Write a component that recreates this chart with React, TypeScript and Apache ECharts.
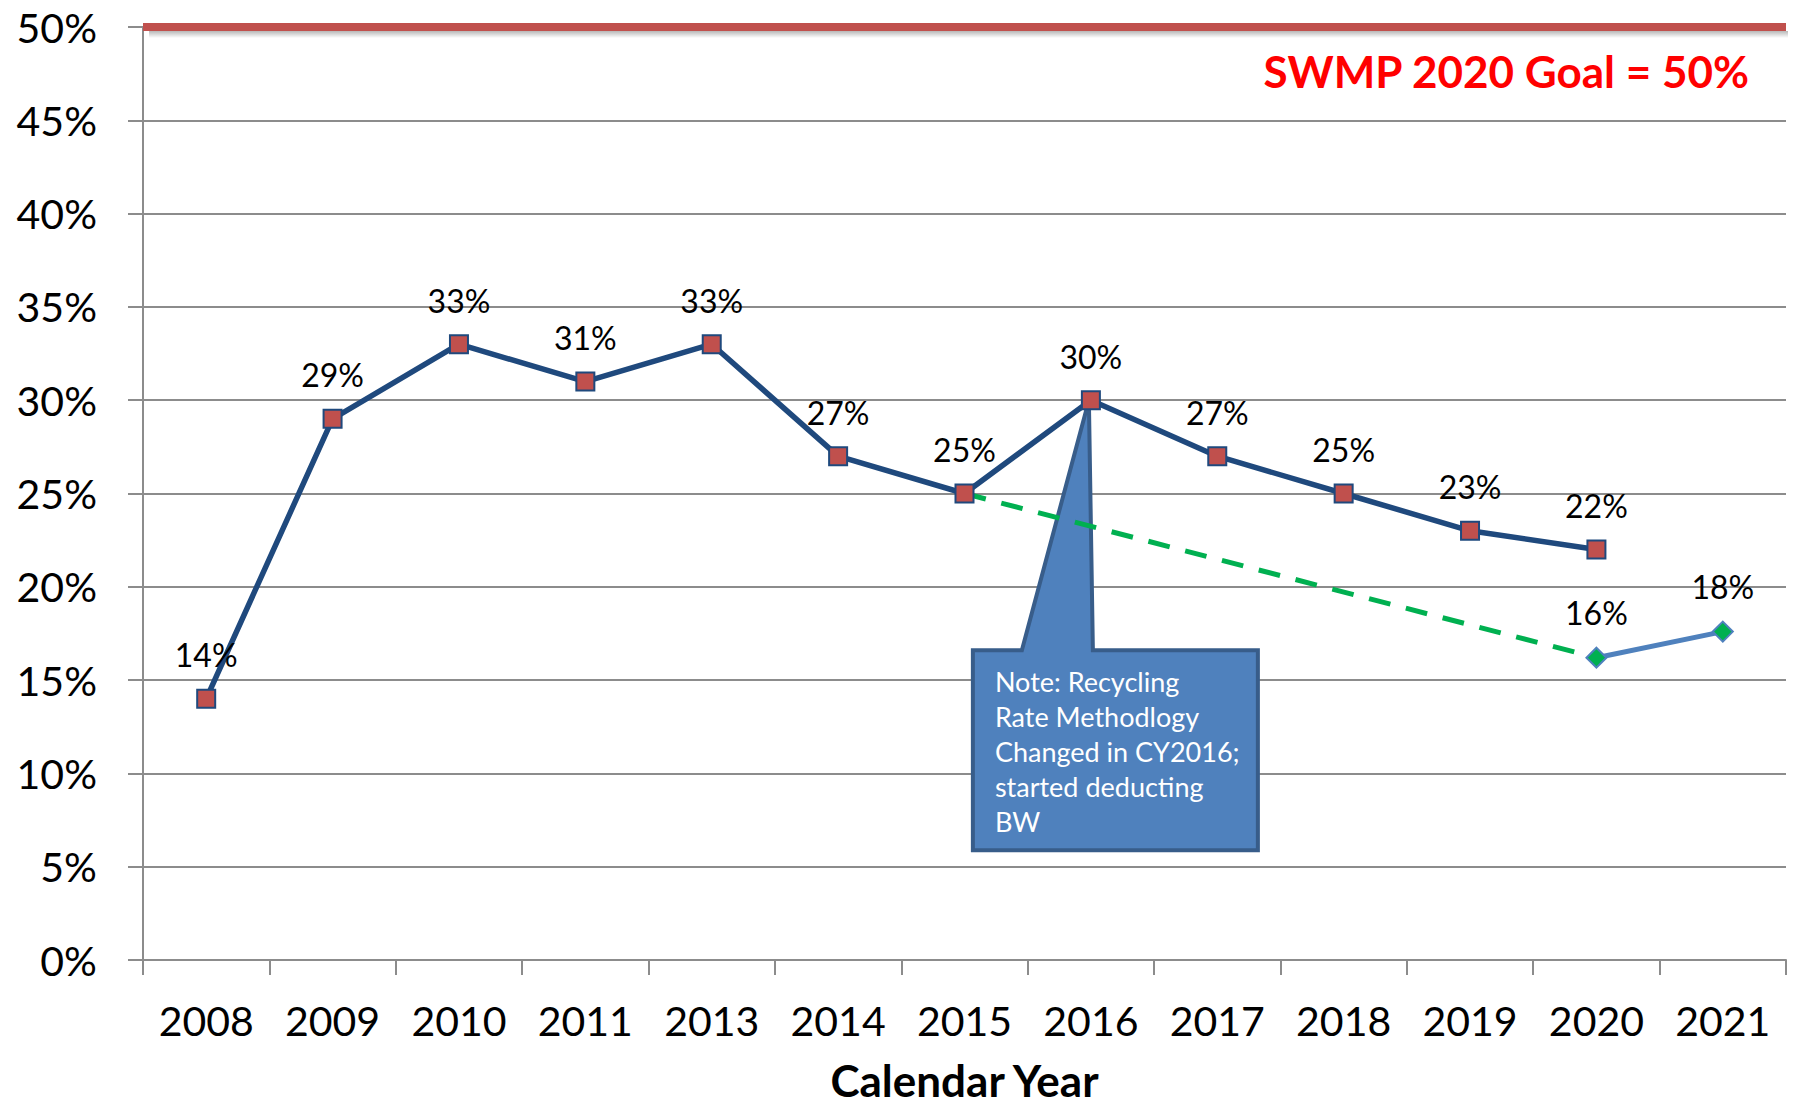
import React, { useEffect, useRef } from "react";
import * as echarts from "echarts";

const YEARS = ["2008", "2009", "2010", "2011", "2013", "2014", "2015", "2016", "2017", "2018", "2019", "2020", "2021"];
const RATE_OLD = [14, 29, 33, 31, 33, 27, 25, 30, 27, 25, 23, 22, null];
const RATE_TREND = [null, null, null, null, null, null, 25, null, null, null, null, 16.2, null];
const RATE_NEW = [null, null, null, null, null, null, null, null, null, null, null, 16.2, 17.6];
const GOAL = 50;
const GOAL_TEXT = "SWMP 2020 Goal = 50%";
const NOTE_LINES = ["Note: Recycling", "Rate Methodlogy", "Changed in CY2016;", "started deducting", "BW"];
const NOTE_YEAR = "2016";
const NOTE_VALUE = 30;

const FONT = "Lato";

export default function App() {
  const ref = useRef<HTMLDivElement>(null);
  useEffect(() => {
    document.body.style.margin = "0";
    const chart = echarts.init(ref.current!, null, { renderer: "svg" });
    const labelCfg = {
      show: true,
      position: "top",
      distance: 18,
      color: "#000",
      fontFamily: FONT,
      fontSize: 32,
      formatter: (p: any) => Math.round(p.value) + "%",
    };
    chart.setOption({
      animation: false,
      grid: { left: 143, right: 10, top: 27, bottom: 150, outerBoundsMode: "none", containLabel: false },
      xAxis: {
        type: "category",
        data: YEARS,
        boundaryGap: true,
        axisLine: { lineStyle: { color: "#8C8C8C", width: 2 } },
        axisTick: { show: true, length: 15, interval: 0, lineStyle: { color: "#8C8C8C", width: 2 } },
        axisLabel: { color: "#000", fontFamily: FONT, fontSize: 41, margin: 40, interval: 0 },
        splitLine: { show: false },
        name: "Calendar Year",
        nameLocation: "middle",
        nameGap: 97,
        nameTextStyle: { color: "#000", fontFamily: FONT, fontSize: 44, fontWeight: "bold", lineHeight: 46 },
      },
      yAxis: {
        type: "value",
        min: 0,
        max: 50,
        interval: 5,
        axisLine: { show: true, lineStyle: { color: "#8C8C8C", width: 2 } },
        axisTick: { show: true, length: 15, lineStyle: { color: "#8C8C8C", width: 2 } },
        axisLabel: { color: "#000", fontFamily: FONT, fontSize: 41, margin: 46, formatter: "{value}%" },
        splitLine: { lineStyle: { color: "#8C8C8C", width: 2 } },
      },
      series: [
        {
          type: "line",
          data: RATE_TREND,
          connectNulls: true,
          showSymbol: false,
          symbol: "none",
          silent: true,
          z: 3,
          lineStyle: { color: "#00B050", width: 5, type: [22, 16] },
          markLine: {
            silent: true,
            symbol: "none",
            label: { show: false },
            lineStyle: { color: "#C0504D", width: 8, type: "solid", opacity: 1 },
            data: [{ yAxis: GOAL }],
          },
        },
        {
          type: "line",
          data: RATE_OLD,
          z: 4,
          symbol: "rect",
          symbolSize: 18,
          itemStyle: { color: "#C0504D", borderColor: "#1F497D", borderWidth: 2 },
          lineStyle: { color: "#1F497D", width: 5.5 },
          label: labelCfg,
        },
        {
          type: "line",
          data: RATE_NEW,
          z: 4,
          symbol: "diamond",
          symbolSize: 20,
          itemStyle: { color: "#00B050", borderColor: "#4F81BD", borderWidth: 2 },
          lineStyle: { color: "#4F81BD", width: 5 },
          label: labelCfg,
        },
      ],
    });

    const tip = chart.convertToPixel({ xAxisIndex: 0, yAxisIndex: 0 }, [NOTE_YEAR, NOTE_VALUE]) as number[];
    const tx = tip[0];
    const ty = tip[1];
    const bl = tx - 118;
    const br = tx + 167;
    const bt = ty + 250;
    const bb = ty + 450;
    const goalPx = chart.convertToPixel({ yAxisIndex: 0 }, GOAL) as number;
    const gridLeft = chart.convertToPixel({ xAxisIndex: 0 }, YEARS[0]) as number;
    const gridRight = chart.convertToPixel({ xAxisIndex: 0 }, YEARS[YEARS.length - 1]) as number;
    const half = (gridRight - gridLeft) / (YEARS.length - 1) / 2;
    chart.setOption({
      graphic: [
        {
          type: "rect",
          z: 1,
          silent: true,
          shape: { x: gridLeft - half + 6, y: goalPx + 4, width: gridRight - gridLeft + 2 * half - 4, height: 7 },
          style: {
            fill: {
              type: "linear",
              x: 0,
              y: 0,
              x2: 0,
              y2: 1,
              colorStops: [
                { offset: 0, color: "rgba(0,0,0,0.28)" },
                { offset: 1, color: "rgba(0,0,0,0)" },
              ],
            },
          },
        },
        {
          type: "polygon",
          z: 1,
          shape: {
            points: [
              [bl, bt],
              [tx - 69, bt],
              [tx - 2, ty],
              [tx + 2, bt],
              [br, bt],
              [br, bb],
              [bl, bb],
            ],
          },
          style: { fill: "#4F81BD", stroke: "#385D8A", lineWidth: 4, lineJoin: "miter" },
        },
        {
          type: "text",
          z: 1,
          x: bl + 22,
          y: bt + 14,
          style: {
            text: NOTE_LINES.join("\n"),
            fill: "#FFFFFF",
            font: `27px ${FONT}`,
            lineHeight: 35,
            align: "left",
            verticalAlign: "top",
          },
        },
        {
          type: "text",
          z: 5,
          x: 1749,
          y: goalPx + 44,
          style: {
            text: GOAL_TEXT,
            fill: "#FF0000",
            font: `bold 44px ${FONT}`,
            align: "right",
            verticalAlign: "middle",
          },
        },
      ],
    });
    return () => chart.dispose();
  }, []);
  return <div ref={ref} style={{ position: "absolute", left: 0, top: 0, width: 1796, height: 1110 }} />;
}
